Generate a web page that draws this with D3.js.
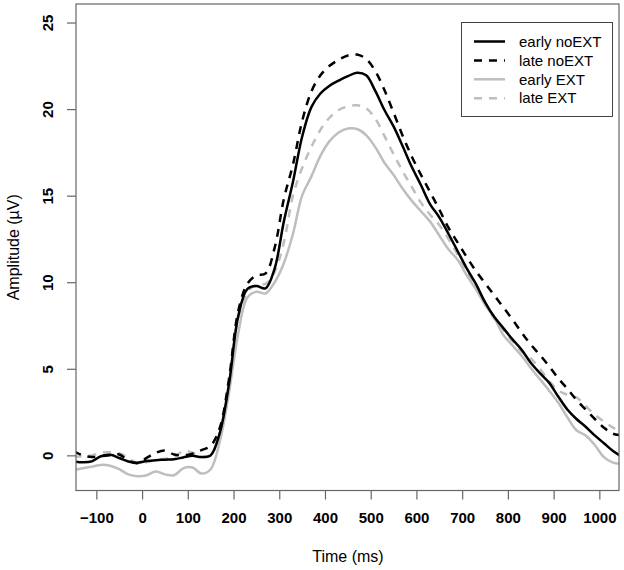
<!DOCTYPE html>
<html>
<head>
<meta charset="utf-8">
<script src="https://cdn.jsdelivr.net/npm/d3@7"></script>
<style>
  html, body { margin: 0; padding: 0; background: #fff; }
  svg { display: block; font-family: "Liberation Sans", Arial, sans-serif; }
</style>
</head>
<body>
<svg id="chart" width="624" height="570"></svg>
<script>
// ---- data ----
const times = [-150,-130,-110,-90,-70,-50,-30,-10,10,30,50,70,90,110,130,150,170,190,210,230,250,270,290,310,330,350,370,390,410,430,450,470,490,510,530,550,570,590,610,630,650,670,690,710,730,750,770,790,810,830,850,870,890,910,930,950,970,990,1010,1030,1050];

const earlyNoEXT = [-0.35,-0.40,-0.35,-0.05,0.03,-0.15,-0.35,-0.42,-0.33,-0.28,-0.25,-0.22,-0.12,-0.03,-0.10,0.0,1.3,4.1,8.0,9.6,9.78,9.65,10.8,13.5,15.8,18.4,20.1,20.9,21.35,21.65,21.9,22.1,21.95,21.05,19.95,19.0,17.85,16.65,15.6,14.5,13.75,12.8,11.8,10.8,9.9,8.85,8.0,7.35,6.7,6.1,5.35,4.75,4.2,3.4,2.65,2.1,1.65,1.15,0.7,0.25,-0.1];

const lateNoEXT = [0.25,0.0,-0.1,-0.05,0.0,0.05,-0.3,-0.45,-0.15,0.15,0.28,0.05,0.0,0.1,0.3,0.55,1.6,4.4,8.3,9.9,10.4,10.5,12.0,14.8,16.8,19.3,21.0,21.95,22.5,22.85,23.1,23.15,22.9,22.2,21.1,19.8,18.45,17.25,16.2,15.2,14.2,13.15,12.3,11.45,10.65,9.95,9.25,8.55,7.85,7.1,6.4,5.8,5.15,4.45,3.85,3.2,2.65,2.1,1.6,1.25,1.15];

const earlyEXT = [-0.85,-0.75,-0.65,-0.55,-0.6,-0.8,-1.1,-1.2,-1.15,-0.93,-1.1,-1.15,-0.75,-0.7,-1.05,-0.8,0.8,3.6,7.0,9.1,9.45,9.35,10.0,11.1,12.8,15.0,16.1,17.3,18.15,18.65,18.88,18.85,18.5,17.8,16.9,16.2,15.4,14.7,14.1,13.5,12.7,11.9,11.3,10.4,9.6,8.7,7.95,6.95,6.35,5.75,5.05,4.4,3.75,3.05,2.2,1.45,1.15,0.6,-0.1,-0.42,-0.5];

const lateEXT = [-0.1,-0.05,0.0,0.15,0.18,0.12,-0.15,-0.45,-0.4,-0.25,-0.2,-0.1,0.25,0.15,-0.1,0.05,1.3,4.1,7.9,9.4,9.85,9.9,10.6,12.3,15.0,16.6,17.8,18.8,19.5,19.95,20.15,20.22,20.05,19.45,18.45,17.4,16.4,15.5,14.6,13.9,13.3,12.5,11.6,10.6,9.7,8.75,7.9,7.25,6.6,6.0,5.6,5.0,4.3,3.75,3.5,3.35,2.85,2.35,1.95,1.6,1.3];

const seriesNames = ["early noEXT", "late noEXT", "early EXT", "late EXT"];
const xTicks = [-100,0,100,200,300,400,500,600,700,800,900,1000];
const yTicks = [0,5,10,15,20,25];

// ---- layout ----
const svg = d3.select("#chart");
const L = 76, R = 619, T = 4, B = 490.5;

const x = d3.scaleLinear().domain([-144.5, 1043]).range([L, R]);
const y = d3.scaleLinear().domain([-2.03, 26.07]).range([B, T]);

const series = [
  {name: seriesNames[0], values: earlyNoEXT, color: "#000000", dash: null},
  {name: seriesNames[1], values: lateNoEXT,  color: "#000000", dash: "8,7"},
  {name: seriesNames[2], values: earlyEXT,   color: "#bebebe", dash: null},
  {name: seriesNames[3], values: lateEXT,    color: "#bebebe", dash: "8,7"}
];

svg.append("defs").append("clipPath").attr("id", "plotclip")
  .append("rect").attr("x", L).attr("y", T).attr("width", R - L).attr("height", B - T);

const line = d3.line()
  .x((d, i) => x(times[i]))
  .y(d => y(d))
  .curve(d3.curveCatmullRom.alpha(0.5));

const g = svg.append("g").attr("clip-path", "url(#plotclip)");
// draw grey first, black on top
[series[2], series[3], series[0], series[1]].forEach(s => {
  g.append("path")
    .datum(s.values)
    .attr("d", line)
    .attr("fill", "none")
    .attr("stroke", s.color)
    .attr("stroke-width", 2.5)
    .attr("stroke-dasharray", s.dash)
    .attr("stroke-linejoin", "round");
});

// plot box
svg.append("rect")
  .attr("x", L).attr("y", T).attr("width", R - L).attr("height", B - T)
  .attr("fill", "none").attr("stroke", "#666").attr("stroke-width", 1.2);

// x axis
const xa = svg.append("g").attr("transform", `translate(0,${B})`)
  .call(d3.axisBottom(x).tickValues(xTicks).tickSize(9).tickPadding(13).tickFormat(d => d < 0 ? "\u2212" + Math.abs(d) : d));
xa.select(".domain").remove();
xa.selectAll(".tick line").attr("stroke", "#666").attr("stroke-width", 1.2);
xa.selectAll(".tick text")
  .attr("fill", "#000")
  .style("font-size", "15px")
  .style("font-weight", "bold")
  .style("font-family", "'Liberation Sans', Arial, sans-serif");

// y axis
const ya = svg.append("g").attr("transform", `translate(${L},0)`)
  .call(d3.axisLeft(y).tickValues(yTicks).tickSize(9));
ya.select(".domain").remove();
ya.selectAll(".tick line").attr("stroke", "#666").attr("stroke-width", 1.2);
ya.selectAll(".tick text")
  .attr("x", null).attr("dy", "0.36em")
  .attr("transform", "translate(-28,0) rotate(-90)")
  .attr("text-anchor", "middle")
  .attr("fill", "#000")
  .style("font-size", "15px")
  .style("font-weight", "bold")
  .style("font-family", "'Liberation Sans', Arial, sans-serif");

// axis titles
svg.append("text")
  .attr("x", 348).attr("y", 562)
  .attr("text-anchor", "middle")
  .style("font-size", "16px")
  .text("Time (ms)");

svg.append("text")
  .attr("transform", `translate(19,${(T + B) / 2}) rotate(-90)`)
  .attr("text-anchor", "middle")
  .style("font-size", "16px")
  .text("Amplitude (\u00b5V)");

// legend
const lg = svg.append("g");
lg.append("rect")
  .attr("x", 461.5).attr("y", 22.5).attr("width", 151).attr("height", 94)
  .attr("fill", "#fff").attr("stroke", "#444").attr("stroke-width", 1);
series.forEach((s, i) => {
  const yy = 41.5 + i * 18.9;
  lg.append("line")
    .attr("x1", 474).attr("x2", 505).attr("y1", yy).attr("y2", yy)
    .attr("stroke", s.color).attr("stroke-width", 2.5)
    .attr("stroke-dasharray", s.dash ? "8,7" : null);
  lg.append("text")
    .attr("x", 519).attr("y", yy).attr("dy", "0.35em")
    .style("font-size", "15px")
    .text(s.name);
});
</script>
</body>
</html>
